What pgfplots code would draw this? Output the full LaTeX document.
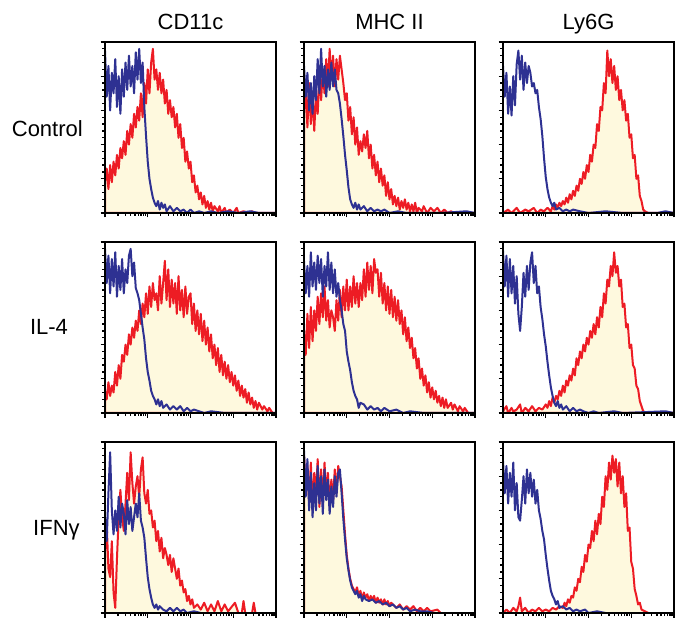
\documentclass[border=0pt]{standalone}
\usepackage{pgfplots}
\pgfplotsset{compat=1.18}
\usepackage{fontspec}
\setmainfont{Liberation Sans}
\definecolor{redc}{RGB}{237,28,36}
\definecolor{bluec}{RGB}{46,49,146}
\definecolor{fillc}{RGB}{254,249,222}
\pgfplotsset{
  hist/.style={width=171pt,height=171pt,scale only axis,
    xmin=0,xmax=100,ymin=0,ymax=100,
    xtick={0,25,50,75,100},
    minor xtick={7.53,11.93,15.05,17.47,19.45,21.13,22.58,23.86,
                 32.53,36.93,40.05,42.47,44.45,46.13,47.58,48.86,
                 57.53,61.93,65.05,67.47,69.45,71.13,72.58,73.86,
                 82.53,86.93,90.05,92.47,94.45,96.13,97.58,98.86},
    ytick={0,20,40,60,80,100}, minor y tick num=4,
    xticklabel=\empty, yticklabel=\empty,
    tick align=outside, xtick pos=bottom, ytick pos=left,
    major tick length=4.5pt, minor tick length=3pt,
    tick style={black,line width=1.3pt},
    axis line style={line width=2.2pt},
    axis on top, anchor=north west},
  redl/.style={draw=redc, fill=fillc, line width=2pt, line join=round},
  bluel/.style={draw=bluec, line width=2pt, line join=round}
}
\begin{document}
\begin{tikzpicture}
\useasboundingbox (0pt,0pt) rectangle (683pt,630pt);
\def\tf{\fontsize{22}{26}\selectfont}
\node[anchor=base] at (190.5pt,600pt) {\tf CD11c};
\node[anchor=base] at (389.5pt,600pt) {\tf MHC II};
\node[anchor=base] at (588.5pt,600pt) {\tf Ly6G};
\node[anchor=base east,inner sep=0pt] at (83pt,493pt) {\tf Control};
\node[anchor=base,inner sep=0pt] at (49pt,295pt) {\tf IL-4};
\node[anchor=base west,inner sep=0pt] at (33pt,95pt) {\tf IFNγ};

% Row 1 col 1
\begin{axis}[hist, at={(105pt,588pt)}]
\addplot[redl] coordinates {(0,18)(1,26)(2,14)(3,28)(4,18)(5,30)(6,22)(7,34)(8,26)(9,38)(10,32)(11,42)(12,34)(13,48)(14,40)(15,52)(16,44)(17,58)(18,50)(19,62)(20,54)(21,70)(22,56)(23,76)(24,64)(25,84)(26,70)(27,88)(28,96)(29,78)(30,84)(31,72)(32,82)(33,70)(34,78)(35,64)(36,72)(37,58)(38,66)(39,56)(40,62)(41,50)(42,58)(43,44)(44,52)(45,38)(46,44)(47,30)(48,36)(49,26)(50,30)(51,18)(52,22)(53,12)(54,16)(55,8)(56,12)(57,5)(58,10)(59,3)(60,7)(61,2)(62,6)(63,1)(64,4)(66,1)(67,4)(68,0)(70,3)(71,0)(73,2)(75,0)(77,3)(78,0)(81,1)(84,0)(86,1)(88,0)(100,0)} \closedcycle;
\addplot[bluel] coordinates {(0,95)(1,68)(2,86)(3,60)(4,82)(5,70)(6,90)(7,62)(8,80)(9,58)(10,84)(11,68)(12,88)(13,72)(14,92)(15,74)(16,86)(17,70)(18,94)(19,78)(20,96)(21,76)(22,88)(23,62)(24,45)(25,30)(26,20)(27,14)(28,9)(29,6)(30,4)(31,7)(32,2)(33,6)(34,3)(35,5)(36,1)(38,4)(40,1)(42,3)(44,1)(46,2)(48,0)(50,2)(52,0)(55,1)(58,0)(62,1)(66,0)(72,1)(78,0)(85,1)(90,0)(100,0)};
\end{axis}

% Row 1 col 2
\begin{axis}[hist, at={(304pt,588pt)}]
\addplot[redl] coordinates {(0,59)(1,72)(2,50)(3,76)(4,52)(5,68)(6,48)(7,70)(8,58)(9,80)(10,66)(11,84)(12,70)(13,90)(14,74)(15,96)(16,78)(17,92)(18,74)(19,90)(20,78)(21,92)(22,84)(23,76)(24,66)(25,70)(26,54)(27,62)(28,46)(29,56)(30,40)(31,50)(32,34)(33,42)(34,36)(35,46)(36,38)(37,48)(38,32)(39,40)(40,26)(41,34)(42,22)(43,30)(44,18)(45,26)(46,16)(47,22)(48,10)(49,18)(50,8)(51,14)(52,5)(53,10)(54,4)(55,9)(56,2)(57,7)(58,3)(59,8)(60,2)(61,6)(62,1)(63,5)(64,1)(65,6)(66,0)(67,3)(69,1)(70,4)(72,0)(74,3)(76,1)(78,3)(80,0)(82,2)(84,0)(86,1)(88,0)(100,0)} \closedcycle;
\addplot[bluel] coordinates {(0,86)(1,68)(2,82)(3,60)(4,76)(5,58)(6,80)(7,66)(8,90)(9,70)(10,96)(11,74)(12,86)(13,68)(14,84)(15,72)(16,88)(17,74)(18,84)(19,72)(20,70)(21,64)(22,55)(23,45)(24,34)(25,25)(26,15)(27,8)(28,5)(29,3)(30,6)(31,2)(32,5)(33,2)(35,4)(37,1)(39,3)(41,1)(43,2)(45,1)(47,2)(50,0)(55,1)(60,0)(70,0)(80,0)(95,1)(100,0)};
\end{axis}

% Row 1 col 3
\begin{axis}[hist, at={(503pt,588pt)}]
\addplot[redl] coordinates {(0,0)(3,2)(5,0)(8,3)(10,0)(13,2)(15,1)(18,3)(20,0)(22,2)(24,1)(26,3)(28,1)(29,4)(30,2)(31,5)(32,3)(33,6)(34,4)(35,7)(36,5)(37,9)(38,6)(39,11)(40,8)(41,13)(42,10)(43,16)(44,13)(45,20)(46,17)(47,24)(48,20)(49,28)(50,24)(51,34)(52,30)(53,40)(54,38)(55,52)(56,48)(57,62)(58,60)(59,76)(60,70)(61,95)(62,80)(63,90)(64,76)(65,86)(66,72)(67,80)(68,66)(69,72)(70,60)(71,66)(72,54)(73,58)(74,44)(75,46)(76,32)(77,34)(78,20)(79,22)(80,10)(81,7)(82,2)(83,1)(85,0)(100,0)} \closedcycle;
\addplot[bluel] coordinates {(0,86)(1,68)(2,82)(3,58)(4,74)(5,57)(6,80)(7,63)(8,87)(9,95)(10,78)(11,92)(12,72)(13,88)(14,76)(15,86)(16,82)(17,74)(18,76)(19,70)(20,72)(21,62)(22,55)(23,45)(24,32)(25,21)(26,14)(27,9)(28,6)(29,4)(30,6)(31,2)(33,3)(35,1)(37,2)(39,1)(41,2)(45,1)(50,0)(60,1)(70,0)(90,0)(95,1)(100,0)};
\end{axis}

% Row 2 col 1
\begin{axis}[hist, at={(105pt,388pt)}]
\addplot[redl] coordinates {(0,13)(1,8)(2,18)(3,10)(4,16)(5,12)(6,24)(7,16)(8,28)(9,20)(10,34)(11,30)(12,40)(13,34)(14,46)(15,40)(16,50)(17,44)(18,54)(19,48)(20,60)(21,52)(22,64)(23,56)(24,70)(25,58)(26,74)(27,62)(28,76)(29,66)(30,70)(31,60)(32,80)(33,64)(34,76)(35,89)(36,66)(37,84)(38,62)(39,78)(40,64)(41,76)(42,58)(43,80)(44,60)(45,72)(46,56)(47,74)(48,58)(49,68)(50,70)(51,52)(52,64)(53,48)(54,60)(55,46)(56,58)(57,42)(58,54)(59,40)(60,50)(61,36)(62,46)(63,32)(64,40)(65,28)(66,38)(67,24)(68,34)(69,22)(70,30)(71,20)(72,28)(73,18)(74,24)(75,16)(76,22)(77,13)(78,19)(79,10)(80,16)(81,9)(82,14)(83,6)(84,12)(85,5)(86,9)(87,3)(88,7)(89,2)(90,6)(92,2)(93,4)(95,1)(96,3)(98,0)(100,0)} \closedcycle;
\addplot[bluel] coordinates {(0,96)(1,76)(2,92)(3,70)(4,90)(5,74)(6,94)(7,68)(8,86)(9,72)(10,90)(11,70)(12,84)(13,76)(14,92)(15,96)(16,80)(17,88)(18,73)(19,70)(20,66)(21,58)(22,50)(23,43)(24,32)(25,24)(26,19)(27,13)(28,10)(29,8)(30,5)(31,8)(32,4)(33,7)(34,3)(36,5)(38,2)(40,4)(42,2)(44,4)(46,1)(48,3)(50,1)(52,2)(55,1)(58,0)(62,1)(70,0)(100,0)};
\end{axis}

% Row 2 col 2
\begin{axis}[hist, at={(304pt,388pt)}]
\addplot[redl] coordinates {(0,48)(1,34)(2,58)(3,38)(4,62)(5,42)(6,60)(7,48)(8,68)(9,52)(10,70)(11,56)(12,74)(13,54)(14,66)(15,50)(16,60)(17,56)(18,48)(19,66)(20,54)(21,72)(22,56)(23,74)(24,60)(25,78)(26,60)(27,74)(28,62)(29,80)(30,64)(31,76)(32,62)(33,76)(34,66)(35,84)(36,68)(37,88)(38,72)(39,86)(40,70)(41,90)(42,82)(43,84)(44,68)(45,82)(46,64)(47,76)(48,60)(49,74)(50,58)(51,72)(52,56)(53,68)(54,54)(55,66)(56,52)(57,60)(58,46)(59,56)(60,42)(61,50)(62,38)(63,44)(64,32)(65,38)(66,26)(67,32)(68,20)(69,26)(70,16)(71,22)(72,12)(73,18)(74,9)(75,15)(76,8)(77,13)(78,6)(79,10)(80,4)(81,9)(82,3)(83,8)(84,3)(86,6)(87,2)(88,5)(90,1)(91,4)(93,1)(94,3)(96,0)(100,0)} \closedcycle;
\addplot[bluel] coordinates {(0,89)(1,70)(2,86)(3,68)(4,94)(5,74)(6,88)(7,72)(8,92)(9,76)(10,90)(11,68)(12,86)(13,74)(14,94)(15,72)(16,88)(17,70)(18,84)(19,68)(20,76)(21,66)(22,60)(23,52)(24,48)(25,36)(26,30)(27,25)(28,18)(29,13)(30,10)(31,8)(32,3)(33,6)(35,5)(37,2)(39,4)(41,2)(43,3)(45,1)(47,3)(50,1)(54,2)(58,0)(62,1)(70,0)(100,0)};
\end{axis}

% Row 2 col 3
\begin{axis}[hist, at={(503pt,388pt)}]
\addplot[redl] coordinates {(0,1)(2,4)(3,0)(5,3)(6,1)(8,2)(10,5)(11,0)(13,3)(15,1)(17,4)(19,1)(21,3)(23,2)(25,5)(26,3)(27,7)(28,4)(29,9)(30,6)(31,10)(32,8)(33,13)(34,10)(35,16)(36,12)(37,19)(38,16)(39,22)(40,19)(41,26)(42,22)(43,32)(44,28)(45,36)(46,32)(47,40)(48,36)(49,44)(50,40)(51,48)(52,44)(53,52)(54,46)(55,56)(56,50)(57,62)(58,56)(59,70)(60,64)(61,78)(62,74)(63,86)(64,80)(65,94)(66,82)(67,86)(68,74)(69,78)(70,62)(71,64)(72,50)(73,52)(74,38)(75,40)(76,28)(77,26)(78,16)(79,14)(80,7)(81,4)(82,1)(84,0)(100,0)} \closedcycle;
\addplot[bluel] coordinates {(0,95)(1,74)(2,92)(3,68)(4,90)(5,70)(6,86)(7,64)(8,80)(9,58)(10,48)(11,62)(12,82)(13,68)(14,86)(15,72)(16,88)(17,94)(18,76)(19,86)(20,70)(21,74)(22,62)(23,55)(24,46)(25,39)(26,30)(27,22)(28,15)(29,10)(30,6)(31,4)(32,7)(33,3)(34,5)(35,2)(37,4)(39,1)(41,3)(43,1)(45,2)(47,1)(50,0)(53,1)(56,0)(65,1)(70,0)(95,1)(100,0)};
\end{axis}

% Row 3 col 1
\begin{axis}[hist, at={(105pt,188pt)}]
\addplot[redl] coordinates {(0,35)(1,52)(2,26)(3,21)(4,42)(5,12)(6,3)(7,32)(8,56)(9,72)(10,56)(11,48)(12,64)(13,82)(14,66)(15,94)(16,76)(17,64)(18,74)(19,80)(20,68)(21,84)(22,91)(23,70)(24,64)(25,72)(26,58)(27,60)(28,50)(29,54)(30,42)(31,48)(32,36)(33,44)(34,32)(35,38)(36,34)(37,28)(38,34)(39,24)(40,32)(41,26)(42,20)(43,26)(44,16)(45,19)(46,12)(47,14)(48,7)(49,10)(50,5)(51,8)(52,3)(54,5)(56,2)(58,6)(60,1)(62,5)(64,1)(66,7)(68,1)(70,5)(72,1)(76,6)(78,0)(80,0)(81,7)(82,0)(86,0)(87,6)(88,0)(100,0)} \closedcycle;
\addplot[bluel] coordinates {(0,56)(1,42)(2,70)(3,94)(4,60)(5,46)(6,60)(7,48)(8,68)(9,50)(10,64)(11,58)(12,46)(13,66)(14,52)(15,62)(16,48)(17,56)(18,64)(19,56)(20,70)(21,54)(22,50)(23,44)(24,32)(25,21)(26,14)(27,9)(28,5)(29,3)(30,5)(31,2)(32,4)(34,2)(36,1)(38,3)(40,1)(42,3)(44,1)(46,2)(48,0)(52,1)(56,0)(100,0)};
\end{axis}

% Row 3 col 2
\begin{axis}[hist, at={(304pt,188pt)}]
\addplot[redl] coordinates {(0,92)(1,74)(2,86)(3,64)(4,88)(5,60)(6,82)(7,68)(8,90)(9,62)(10,84)(11,64)(12,88)(13,68)(14,82)(15,62)(16,78)(17,66)(18,84)(19,70)(20,86)(21,80)(22,74)(23,60)(24,46)(25,34)(26,26)(27,20)(28,16)(29,14)(30,12)(31,15)(32,10)(33,13)(34,8)(35,12)(36,9)(37,11)(38,7)(39,10)(40,8)(41,10)(42,6)(43,9)(44,6)(45,8)(46,5)(47,8)(48,5)(49,7)(50,4)(51,6)(52,5)(54,3)(56,5)(58,2)(60,4)(62,2)(64,4)(66,1)(68,3)(70,1)(72,3)(74,1)(78,2)(80,0)(100,0)} \closedcycle;
\addplot[bluel] coordinates {(0,95)(1,68)(2,90)(3,60)(4,82)(5,56)(6,76)(7,60)(8,86)(9,64)(10,80)(11,58)(12,84)(13,66)(14,78)(15,58)(16,74)(17,62)(18,80)(19,68)(20,82)(21,84)(22,70)(23,55)(24,43)(25,32)(26,25)(27,19)(28,15)(29,13)(30,11)(31,13)(32,9)(33,11)(34,7)(35,10)(36,8)(38,7)(40,8)(42,6)(44,7)(46,5)(48,6)(50,4)(52,5)(54,3)(56,4)(58,2)(60,3)(62,1)(65,2)(68,1)(72,1)(76,0)(100,0)};
\end{axis}

% Row 3 col 3
\begin{axis}[hist, at={(503pt,188pt)}]
\addplot[redl] coordinates {(0,0)(2,2)(4,0)(6,3)(8,1)(9,4)(10,9)(11,1)(13,3)(15,0)(17,2)(19,1)(21,3)(23,1)(25,2)(27,1)(29,3)(31,2)(33,4)(35,3)(36,6)(37,4)(38,8)(39,6)(40,10)(41,9)(42,15)(43,13)(44,20)(45,18)(46,27)(47,24)(48,34)(49,30)(50,40)(51,38)(52,48)(53,42)(54,54)(55,46)(56,58)(57,52)(58,68)(59,62)(60,80)(61,72)(62,88)(63,78)(64,92)(65,82)(66,90)(67,74)(68,88)(69,70)(70,80)(71,62)(72,70)(73,48)(74,50)(75,30)(76,26)(77,14)(78,10)(79,5)(80,6)(81,2)(83,1)(85,0)(100,0)} \closedcycle;
\addplot[bluel] coordinates {(0,89)(1,70)(2,86)(3,64)(4,82)(5,68)(6,88)(7,60)(8,76)(9,56)(10,54)(11,66)(12,80)(13,64)(14,84)(15,70)(16,82)(17,68)(18,78)(19,64)(20,72)(21,60)(22,55)(23,48)(24,43)(25,34)(26,26)(27,19)(28,13)(29,10)(30,8)(31,5)(32,7)(33,3)(35,4)(37,2)(39,3)(41,1)(43,2)(45,1)(48,2)(50,0)(55,1)(60,0)(100,0)};
\end{axis}
\end{tikzpicture}
\end{document}
